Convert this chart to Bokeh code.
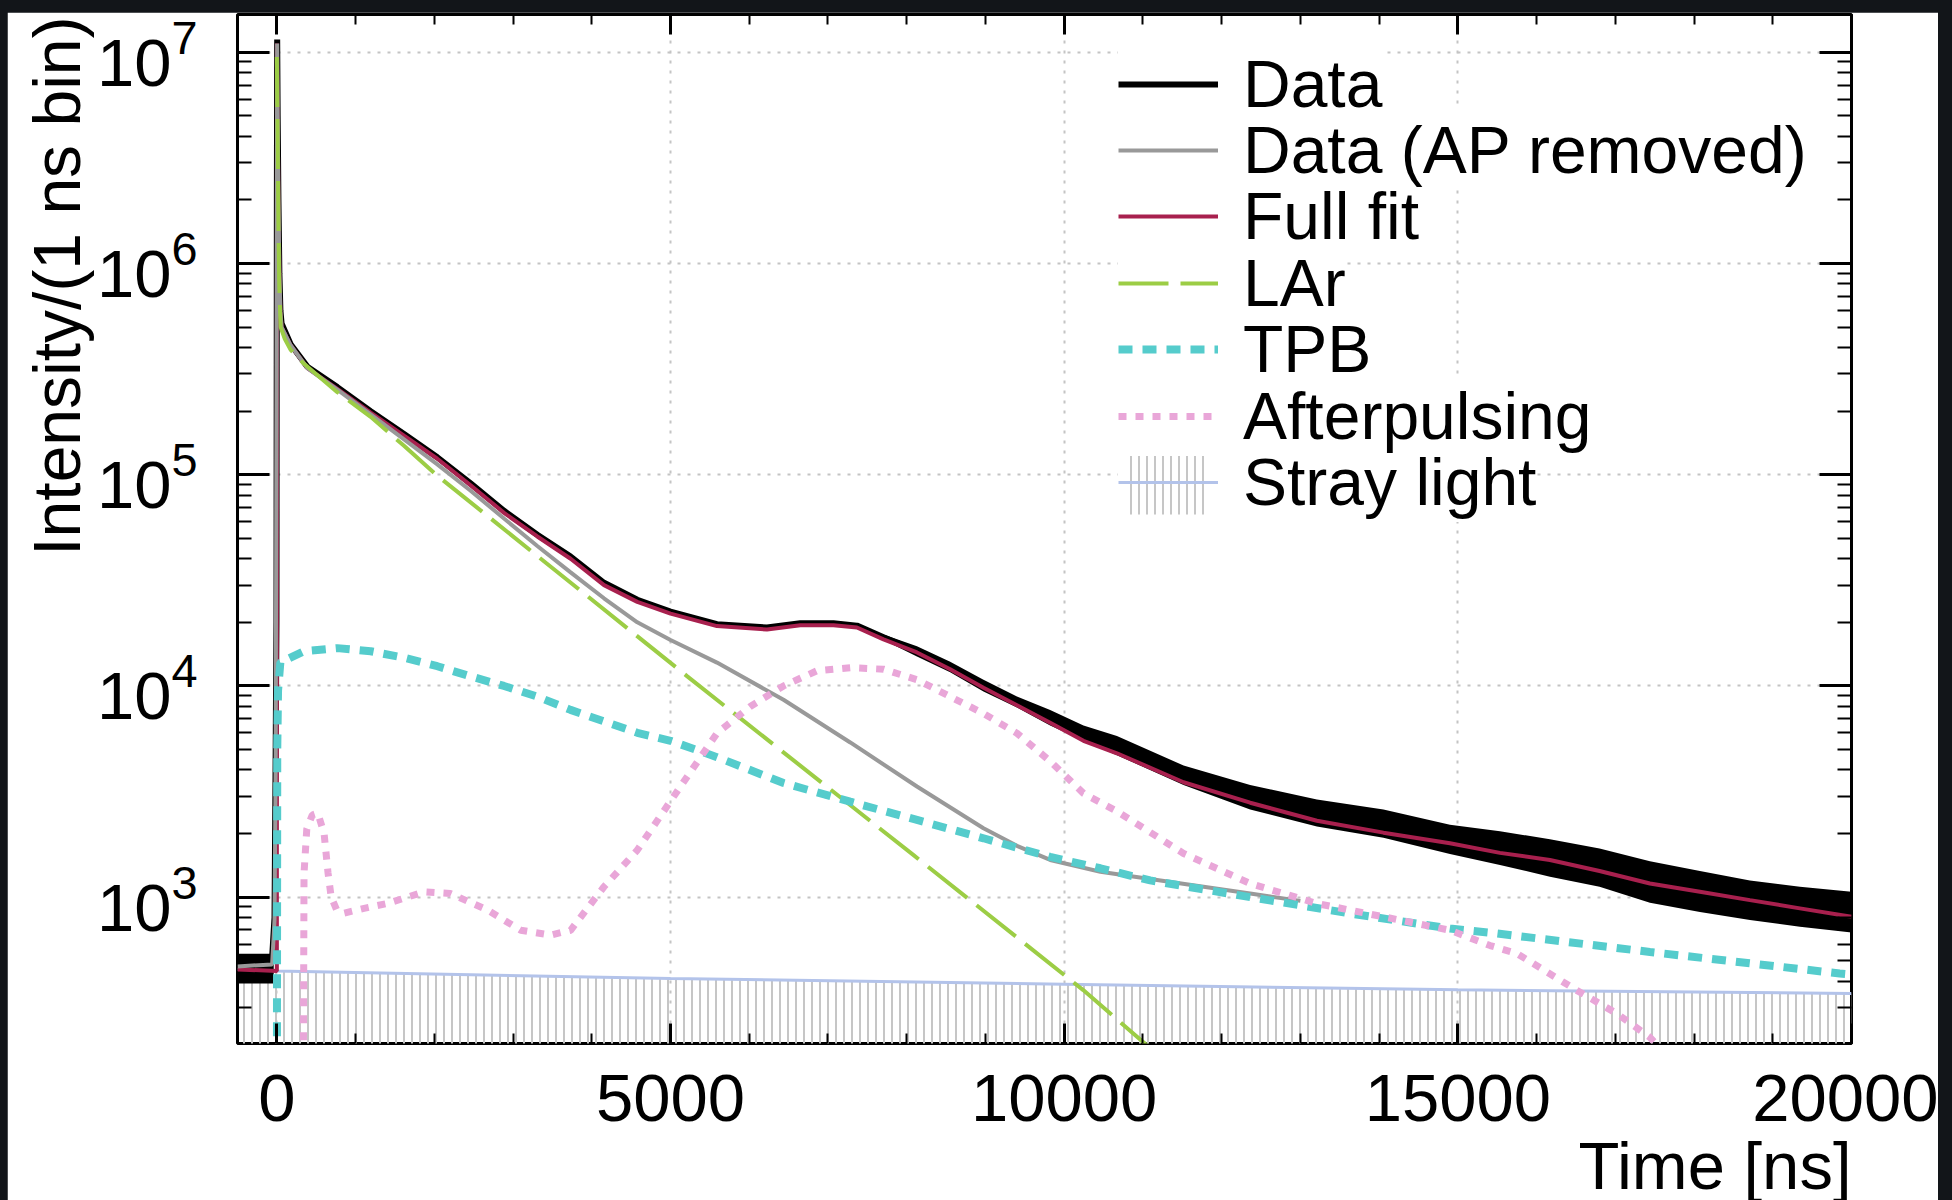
from bokeh.plotting import figure
from bokeh.models import (Range1d, LinearAxis, LogAxis, SingleIntervalTicker, LogTicker,
                          Legend, LegendItem, Title, ColumnDataSource)
from bokeh.layouts import column
from bokeh.embed import file_html
from bokeh.resources import INLINE

FONT = "Liberation Sans"

# ---------------- data ----------------
# Data (black) centre line
data_t = [-500, -420, -340, -260, -180, -100, -60, -30, -15, -5, 0, 4, 10, 20, 32, 45, 60,
          175, 387, 768, 1191, 1615, 2038, 2461, 2885, 3308, 3731, 4155, 4578, 5000, 5590,
          6225, 6648, 7070, 7367, 7705, 8130, 8552, 8975, 9400, 9822, 10245, 10670, 11516,
          12362, 13210, 14055, 14900, 15535, 16170, 16800, 17440, 18075, 18710, 19345, 20000]
data_y = [480, 470, 490, 475, 485, 500, 520, 800, 5e3, 2e4, 2e6, 1.15e7, 5e6, 2e6, 9e5, 6e5, 5.2e5,
          4.15e5, 3.25e5, 2.6e5, 2.0e5, 1.56e5, 1.21e5, 9.1e4, 6.75e4, 5.2e4, 4.1e4, 3.08e4, 2.56e4,
          2.25e4, 1.96e4, 1.89e4, 1.98e4, 1.98e4, 1.93e4, 1.7e4, 1.46e4, 1.23e4, 1.01e4, 8.4e3,
          7.0e3, 5.9e3, 5.1e3, 3.8e3, 3.0e3, 2.52e3, 2.25e3, 1.9e3, 1.72e3, 1.55e3, 1.39e3, 1.19e3,
          1.07e3, 970, 905, 850]
# Data noise envelope (baseline before t=0 and the tail)
base_t = [-500, -40]
base_lo = [390, 390]
base_hi = [540, 540]
tail_t = [7705, 8130, 8552, 8975, 9400, 9822, 10245, 10670, 11516, 12362, 13210, 14055, 14900,
          15535, 16170, 16800, 17440, 18075, 18710, 19345, 20000]
tail_lo = [1.65e4, 1.38e4, 1.16e4, 9.4e3, 7.9e3, 6.5e3, 5.5e3, 4.7e3, 3.4e3, 2.6e3, 2.16e3, 1.91e3,
           1.6e3, 1.42e3, 1.25e3, 1.12e3, 940, 850, 780, 725, 680]
tail_hi = [1.75e4, 1.54e4, 1.3e4, 1.07e4, 8.9e3, 7.7e3, 6.5e3, 5.8e3, 4.2e3, 3.4e3, 2.9e3, 2.6e3,
           2.2e3, 2.05e3, 1.88e3, 1.7e3, 1.48e3, 1.33e3, 1.2e3, 1.12e3, 1.06e3]

# Data (AP removed), grey
gray_t = [-500, -60, -30, -15, -5, 0, 4, 10, 20, 32, 45, 60, 175, 387, 768, 1191, 1615, 2038,
          2461, 2885, 3308, 3731, 4155, 4578, 5000, 5590, 6435, 7283, 8130, 8975, 9400, 9822,
          10460, 11092, 12362, 13000]
gray_y = [470, 480, 780, 4.5e3, 1.8e5, 2e6, 1.1e7, 5e6, 2e6, 9e5, 5.9e5, 5.0e5, 4.1e5, 3.2e5,
          2.53e5, 1.93e5, 1.47e5, 1.12e5, 8.4e4, 6.2e4, 4.6e4, 3.45e4, 2.6e4, 2.0e4, 1.65e4,
          1.29e4, 8.6e3, 5.4e3, 3.34e3, 2.12e3, 1.75e3, 1.5e3, 1.32e3, 1.22e3, 1.04e3, 960]

# Full fit, red
fit_t = [-500, 0, 1, 10, 20, 32, 45, 60, 175, 387, 768, 1191, 1615, 2038, 2461, 2885, 3308, 3731,
         4155, 4578, 5000, 5590, 6225, 6648, 7070, 7367, 7705, 8130, 8552, 8975, 9400, 9822,
         10245, 10670, 11516, 12362, 13210, 14055, 14900, 15535, 16170, 16800, 17440, 18075,
         18710, 19345, 20000]
fit_y = [455, 447, 1.1e7, 5e6, 2e6, 9e5, 5.9e5, 5.0e5, 4.1e5, 3.2e5, 2.55e5, 1.97e5, 1.53e5,
         1.19e5, 8.9e4, 6.6e4, 5.1e4, 4.0e4, 3.0e4, 2.5e4, 2.2e4, 1.92e4, 1.85e4, 1.94e4, 1.94e4,
         1.89e4, 1.66e4, 1.44e4, 1.2e4, 9.8e3, 8.1e3, 6.7e3, 5.5e3, 4.8e3, 3.5e3, 2.8e3, 2.3e3,
         2.02e3, 1.8e3, 1.62e3, 1.5e3, 1.33e3, 1.16e3, 1.06e3, 968, 885, 807]

# LAr component, green
lar_t = [0, 10, 20, 30, 48, 100, 175, 345, 768, 1191, 1615, 2038, 5213, 8087, 10242, 11200]
lar_y = [9.5e6, 4e6, 1.5e6, 8e5, 5.0e5, 4.4e5, 3.9e5, 3.35e5, 2.46e5, 1.88e5, 1.37e5, 9.9e4,
         1.11e4, 1.58e3, 363, 178]

# TPB component, cyan
tpb_t = [0, 5, 15, 44, 345, 768, 1190, 1615, 2038, 2460, 2885, 3308, 3730, 4578, 5000, 5590,
         6435, 7283, 8130, 8975, 9822, 10460, 11092, 12362, 13632, 14900, 15450, 17440, 19850,
         20000]
tpb_y = [100, 5e3, 9.5e3, 1.29e4, 1.46e4, 1.51e4, 1.46e4, 1.36e4, 1.24e4, 1.11e4, 1.0e4, 8.9e3,
         7.7e3, 6.0e3, 5.5e3, 4.6e3, 3.47e3, 2.83e3, 2.32e3, 1.9e3, 1.55e3, 1.37e3, 1.2e3, 1.0e3,
         837, 710, 676, 550, 435, 430]

# Afterpulsing component, pink
ap_t = [335, 345, 380, 450, 520, 600, 650, 690, 760, 853, 1107, 1403, 1870, 2203, 2673, 3098,
        3477, 3731, 4155, 4578, 5000, 5590, 6013, 6435, 6860, 7283, 7705, 8130, 8552, 8975,
        9400, 9822, 10245, 10670, 11516, 12362, 13210, 14055, 14900, 15410, 15750, 16510,
        17020, 17440, 17700]
ap_y = [100, 1.3e3, 2.1e3, 2.45e3, 2.5e3, 2.0e3, 1.3e3, 1.0e3, 870, 840, 885, 933, 1.06e3,
        1.04e3, 870, 697, 661, 697, 1.12e3, 1.67e3, 2.85e3, 5.97e3, 8e3, 1e4, 1.18e4, 1.22e4,
        1.2e4, 1.07e4, 8.9e3, 7.4e3, 5.97e3, 4.4e3, 3.1e3, 2.55e3, 1.61e3, 1.16e3, 933, 807,
        697, 590, 541, 362, 281, 217, 170]

# Stray light, blue
stray_t = [-500, 0, 5000, 10000, 15000, 20000]
stray_y = [455, 447, 412, 387, 364, 350]
stray_floor = [1, 1, 1, 1, 1, 1]

legend_labels = ["Data", "Data (AP removed)", "Full fit", "LAr", "TPB", "Afterpulsing",
                 "Stray light"]
x_title = "Time [ns]"
y_title = "Intensity/(1 ns bin)"

# ---------------- figure ----------------
p = figure(width=1931, height=1221, margin=(12, 14, 0, 7),
           x_range=Range1d(-500, 20000), y_range=Range1d(202.8, 1.51e7),
           y_axis_type="log", output_backend="svg", toolbar_location=None,
           min_border_left=230, min_border_right=87, min_border_top=2, min_border_bottom=190,
           background_fill_color="white", border_fill_color="white",
           outline_line_color="black", outline_line_width=3)

xt = SingleIntervalTicker(interval=5000, num_minor_ticks=5)
yt = LogTicker(num_minor_ticks=10)


def style_axis(ax, maj, mino, labels=True, size="66px", standoff=25):
    ax.axis_line_color = None
    ax.major_tick_in = maj
    ax.major_tick_out = 0
    ax.minor_tick_in = mino
    ax.minor_tick_out = 0
    ax.major_tick_line_color = "black"
    ax.minor_tick_line_color = "black"
    ax.major_tick_line_width = 3
    ax.minor_tick_line_width = 2
    if labels:
        ax.major_label_text_font = FONT
        ax.major_label_text_font_size = size
        ax.major_label_text_color = "black"
        ax.major_label_standoff = standoff
    else:
        ax.major_label_text_font_size = "1px"
        ax.major_label_text_color = None
        ax.major_label_standoff = 0


p.xaxis.ticker = xt
p.yaxis.ticker = yt
style_axis(p.xaxis[0], 20, 10, size="67px", standoff=31)
style_axis(p.yaxis[0], 32, 14, size="67px", standoff=40)

top_ax = LinearAxis(ticker=xt)
style_axis(top_ax, 20, 10, labels=False)
p.add_layout(top_ax, "above")
right_ax = LogAxis(ticker=yt)
style_axis(right_ax, 32, 14, labels=False)
p.add_layout(right_ax, "right")

for g in (p.xgrid[0], p.ygrid[0]):
    g.grid_line_color = "#c4c4c4"
    g.grid_line_dash = "3 7"
    g.grid_line_width = 2
p.xgrid.ticker = xt

# axis titles (ROOT style: at the far end of each axis)
p.add_layout(Title(text=x_title, align="right", standoff=4, text_font=FONT,
                   text_font_size="67px", text_font_style="normal", text_color="black"),
             "below")
p.add_layout(Title(text=y_title, align="right", standoff=0, offset=2, text_font=FONT,
                   text_font_size="66px", text_font_style="normal", text_color="black"),
             "left")

# ---------------- glyphs ----------------
stray_src = ColumnDataSource(dict(t=stray_t, y=stray_y, f=stray_floor))
r_hatch = p.varea(x="t", y1="f", y2="y", source=stray_src, fill_alpha=0,
                  hatch_pattern="vertical_line", hatch_color="#c6c6c6",
                  hatch_scale=8, hatch_weight=2)
r_stray = p.line(x="t", y="y", source=stray_src, line_color="#b3c3ea", line_width=3)

p.varea(x=base_t, y1=base_lo, y2=base_hi, fill_color="black")
p.varea(x=tail_t, y1=tail_lo, y2=tail_hi, fill_color="black")
r_data = p.line(data_t, data_y, line_color="black", line_width=6)
r_fit = p.line(fit_t, fit_y, line_color="#a8204e", line_width=4)
r_gray = p.line(gray_t, gray_y, line_color="#999999", line_width=4)
r_lar = p.line(lar_t, lar_y, line_color="#9ccd45", line_width=4, line_dash="50 12")
r_tpb = p.line(tpb_t, tpb_y, line_color="#55cccc", line_width=8, line_dash="14 10")
r_ap = p.line(ap_t, ap_y, line_color="#e9a6d8", line_width=7, line_dash="8 9")

# one single-item legend per row, so that the row pitch matches the reference;
# added bottom row first so that each row's white box never hides the row above
legend_renderers = [[r_data], [r_gray], [r_fit], [r_lar], [r_tpb], [r_ap], [r_hatch, r_stray]]
row_pitch = 66.4
first_bottom = 919.5   # screen px above the frame bottom, bottom edge of the first row
for i in reversed(range(len(legend_labels))):
    lg = Legend(items=[LegendItem(label=legend_labels[i], renderers=legend_renderers[i])],
                location=(881, first_bottom - i * row_pitch),
                glyph_width=100, glyph_height=80, label_height=80,
                label_standoff=25, padding=0, margin=0,
                border_line_color=None, background_fill_color="white",
                background_fill_alpha=1.0,
                label_text_font=FONT, label_text_font_size="66px", label_text_color="black")
    p.add_layout(lg)

layout = column(p, width=1952, styles={"background-color": "#121519"})

open("out.html", "w").write(file_html(layout, INLINE))
